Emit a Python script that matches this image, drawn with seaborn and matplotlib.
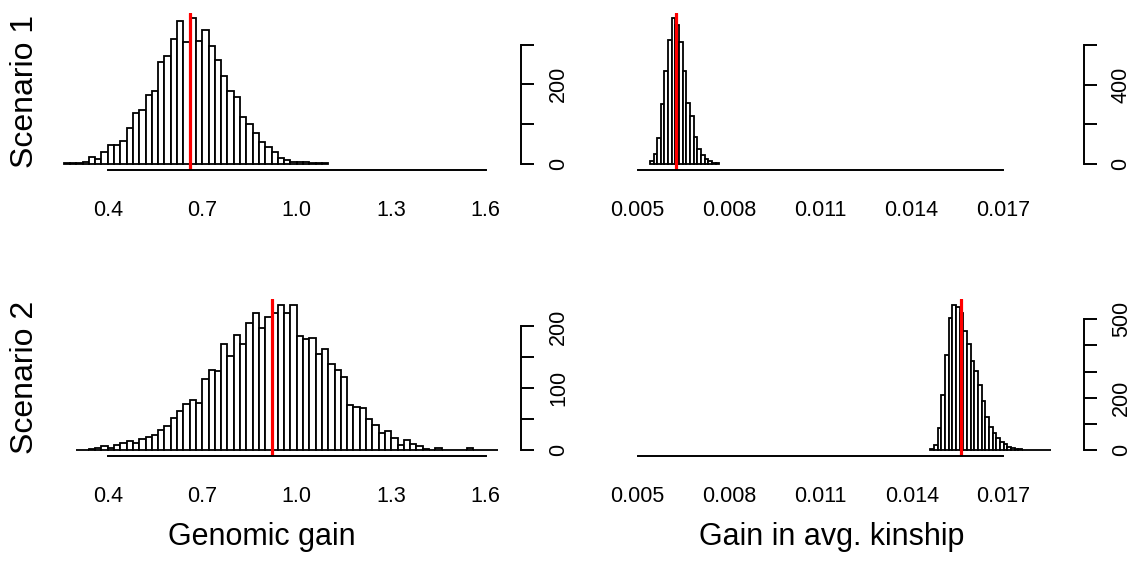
import numpy as np
import pandas as pd
import matplotlib
matplotlib.use("Agg")
import matplotlib.pyplot as plt
import seaborn as sns

# histogram counts (bin start, bin width, counts per bin)
gain_s1_start, gain_s1_width = 0.26, 0.02
gain_s1_counts = [1, 1, 2, 3, 18, 13, 30, 47, 47, 57, 89, 127, 134, 174, 183, 255,
                  270, 314, 359, 307, 366, 308, 336, 297, 261, 221, 183, 169, 118,
                  101, 76, 55, 41, 30, 14, 10, 5, 3, 3, 1, 1, 1]

gain_s2_start, gain_s2_width = 0.30, 0.02
gain_s2_counts = [1, 1, 2, 3, 6, 3, 8, 11, 15, 11, 18, 22, 24, 32, 39, 52, 63, 74,
                  81, 77, 115, 129, 128, 172, 153, 186, 172, 205, 222, 198, 215,
                  221, 235, 221, 234, 185, 180, 182, 155, 164, 139, 130, 118, 73,
                  70, 68, 51, 41, 28, 31, 20, 8, 16, 10, 6, 2, 1, 4, 1, 1, 1, 1,
                  3, 1, 0, 1, 1]

kin_s1_start, kin_s1_width = 0.00540, 0.00012
kin_s1_counts = [12, 50, 130, 300, 468, 627, 736, 700, 618, 468, 309, 242, 134,
                 75, 42, 25, 12, 6, 2]

kin_s2_start, kin_s2_width = 0.01461, 0.00012
kin_s2_counts = [6, 20, 85, 210, 365, 505, 555, 547, 525, 455, 404, 340, 301, 250,
                 186, 128, 90, 64, 45, 32, 22, 13, 8, 5, 3, 2, 2, 1, 1, 1, 1, 0, 1]

# mean of each distribution (red line)
means = {"gain_s1": 0.661, "gain_s2": 0.921, "kin_s1": 0.00625, "kin_s2": 0.0156}

gain_ticks = [0.4, 0.7, 1.0, 1.3, 1.6]
gain_ticklabels = ["0.4", "0.7", "1.0", "1.3", "1.6"]
kin_ticks = [0.005, 0.008, 0.011, 0.014, 0.017]
kin_ticklabels = ["0.005", "0.008", "0.011", "0.014", "0.017"]

y_ticks = {"gain_s1": [0, 100, 200, 300], "gain_s2": [0, 50, 100, 150, 200],
           "kin_s1": [0, 200, 400, 600], "kin_s2": [0, 100, 200, 300, 400, 500]}
y_ticklabels = {"gain_s1": ["0", "", "200", ""], "gain_s2": ["0", "", "100", "", "200"],
                "kin_s1": ["0", "", "400", ""], "kin_s2": ["0", "", "200", "", "", "500"]}

sns.set_style("white")
plt.rcParams['font.family'] = ['Liberation Sans', 'DejaVu Sans']
plt.rcParams['text.color'] = 'black'
plt.rcParams['xtick.color'] = 'black'
plt.rcParams['ytick.color'] = 'black'

W, H = 1134, 561
fig = plt.figure(figsize=(W / 100, H / 100), dpi=100)


def make_ax(left, right, top, bottom):
    return fig.add_axes([left / W, 1 - bottom / H, (right - left) / W, (bottom - top) / H])


def draw(ax, key, start, width, counts, xlim, xticks, xticklabels):
    counts = np.array(counts, dtype=float)
    edges = list(start + width * np.arange(len(counts) + 1))
    centers = [(a + b) / 2 for a, b in zip(edges[:-1], edges[1:])]
    df = pd.DataFrame({"x": centers, "n": counts})
    sns.histplot(data=df, x="x", weights="n", bins=edges, ax=ax,
                 color="white", edgecolor="black", linewidth=1.3, alpha=1)
    m = counts.max()
    ax.set_ylim(-0.04 * m, 1.04 * m)
    ax.set_xlim(*xlim)
    ax.axvline(means[key], color="red", lw=2.3)
    ax.set_xticks(xticks)
    ax.set_xticklabels(xticklabels)
    ax.set_yticks(y_ticks[key])
    ax.set_yticklabels(y_ticklabels[key], rotation=90, va="center")
    ax.yaxis.tick_right()
    ax.set_xlabel("")
    ax.set_ylabel("")
    for s in ["top", "left"]:
        ax.spines[s].set_visible(False)
    ax.spines["bottom"].set_bounds(xticks[0], xticks[-1])
    ax.spines["right"].set_bounds(y_ticks[key][0], y_ticks[key][-1])
    for s in ["bottom", "right"]:
        ax.spines[s].set_linewidth(1.4)
        ax.spines[s].set_color("black")
    ax.tick_params(axis="x", length=9.4, width=1.4, pad=12.5, labelsize=15.5,
                   colors="black", direction="out")
    ax.tick_params(axis="y", length=9.4, width=1.4, pad=10, labelsize=15.5,
                   colors="black", direction="out")
    ax.set_facecolor("none")
    ax.grid(False)


gain_xlim = (0.204, 1.712)
kin_xlim = (0.003761, 0.019649)

ax1 = make_ax(46, 521, 12.5, 169.5)
draw(ax1, "gain_s1", gain_s1_start, gain_s1_width, gain_s1_counts, gain_xlim,
     gain_ticks, gain_ticklabels)
ax2 = make_ax(600, 1083.5, 12.5, 169.5)
draw(ax2, "kin_s1", kin_s1_start, kin_s1_width, kin_s1_counts, kin_xlim,
     kin_ticks, kin_ticklabels)
ax3 = make_ax(46, 521, 299, 456)
draw(ax3, "gain_s2", gain_s2_start, gain_s2_width, gain_s2_counts, gain_xlim,
     gain_ticks, gain_ticklabels)
ax4 = make_ax(600, 1084, 299, 456)
draw(ax4, "kin_s2", kin_s2_start, kin_s2_width, kin_s2_counts, kin_xlim,
     kin_ticks, kin_ticklabels)

fig.text(25 / W, 1 - 91 / H, "Scenario 1", rotation=90, ha="center", va="center",
         fontsize=23, color="black")
fig.text(25 / W, 1 - 377.5 / H, "Scenario 2", rotation=90, ha="center", va="center",
         fontsize=23, color="black")
fig.text(262 / W, 1 - 537 / H, "Genomic gain", ha="center", va="center",
         fontsize=22, color="black")
fig.text(832 / W, 1 - 537 / H, "Gain in avg. kinship", ha="center", va="center",
         fontsize=22, color="black")

fig.savefig("out.png", dpi=100)
